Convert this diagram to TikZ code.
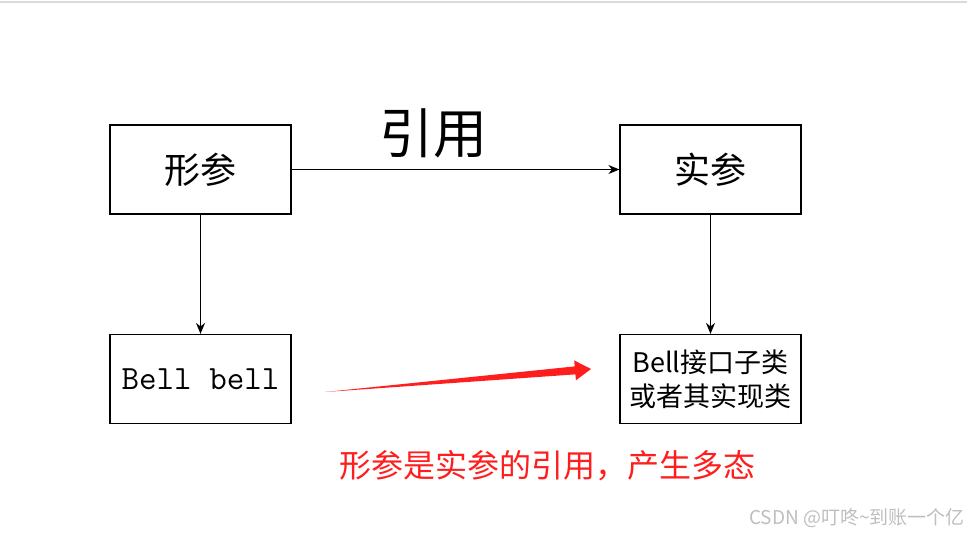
\documentclass[tikz,border=0pt]{standalone}
\usepackage{fontspec}
\usepackage{tikz}
\usetikzlibrary{arrows.meta, positioning, calc}
\setmainfont{Noto Sans CJK SC}
\definecolor{notered}{RGB}{255,30,30}
\definecolor{rulegray}{RGB}{218,218,218}
\definecolor{markgray}{RGB}{190,190,190}

\begin{document}
\begin{tikzpicture}[x=1pt, y=-1pt,
  box/.style={draw, line width=1.2pt, minimum width=181pt, minimum height=89pt, inner sep=0pt, align=center},
  link/.style={-{Stealth[length=11pt, width=9pt]}, line width=1.1pt}]
  \useasboundingbox (0,0) rectangle (967,535);
  \draw[rulegray, line width=1.5pt] (0,2) -- (967,2);
  % boxes
  \node[box, font=\fontsize{36}{42}\selectfont] (formal) at (200.5,169.5) {形参};
  \node[box, font=\fontsize{36}{42}\selectfont] (actual) at (710.5,169.5) {实参};
  \node[box, font=\ttfamily\fontsize{34}{38}\selectfont] (decl) at (200.5,379) {Bell bell};
  \node[box, font=\fontsize{27}{34}\selectfont] (impl) at (710.5,379) {Bell接口子类\\或者其实现类};
  % arrows
  \draw[link] (formal) -- (actual);
  \draw[link] (formal) -- (decl);
  \draw[link] (actual) -- (impl);
  \node[font=\fontsize{54}{60}\selectfont] (reflabel) at (433,133) {引用};
  % red arrow
  \coordinate (tail) at (325,392);
  \coordinate (tip) at (591,369);
  \coordinate (base) at ($(tip)!16pt!(tail)$);
  \fill[notered] (tail) -- ($(base)!4pt!90:(tip)$) -- ($(base)!10pt!90:(tip)$) -- (tip)
    -- ($(base)!10pt!-90:(tip)$) -- ($(base)!4pt!-90:(tip)$) -- cycle;
  \node[notered, font=\fontsize{32}{38}\selectfont] (note) at (547,466) {形参是实参的引用，产生多态};
  \node[markgray, font=\fontsize{19}{22}\selectfont] (mark) at (857,518) {CSDN @叮咚\textasciitilde 到账一个亿};
\end{tikzpicture}
\end{document}
